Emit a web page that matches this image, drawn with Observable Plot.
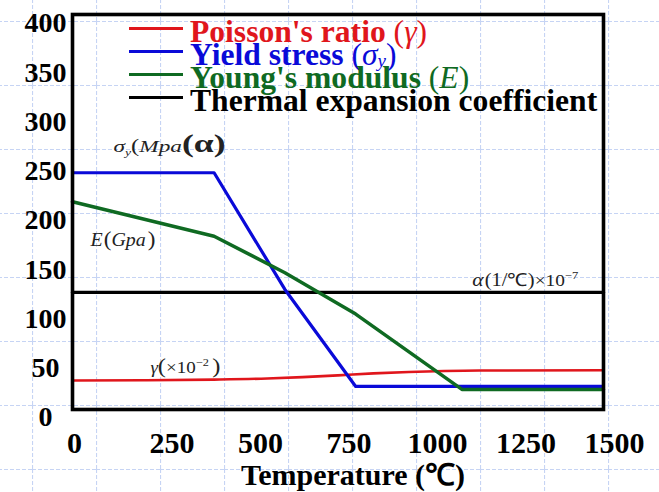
<!DOCTYPE html>
<html>
<head>
<meta charset="utf-8">
<script src="https://cdn.jsdelivr.net/npm/d3@7"></script>
<script src="https://cdn.jsdelivr.net/npm/@observablehq/plot@0.6"></script>
<style>
  html, body { margin: 0; padding: 0; background: #fff; }
  #chart {
    position: relative; width: 659px; height: 492px; overflow: hidden;
    background-image: url("data:image/svg+xml,%3Csvg xmlns='http://www.w3.org/2000/svg' width='64' height='64'%3E%3Cpath d='M0 0.5H64M0.5 0V64' stroke='%23c6d4f4' stroke-width='1.2' stroke-dasharray='4 2' fill='none'/%3E%3C/svg%3E");
    background-position: 32px 21px;
  }
  #legend {
    position: absolute; left: 129px; top: 20px;
    font-family: "Liberation Serif", "Times New Roman", serif;
    font-weight: bold; font-size: 31.6px; line-height: 23px; white-space: nowrap;
  }
  #legend .row { position: relative; height: 23px; padding-left: 61px; }
  #legend .swatch { position: absolute; left: 0; top: 7px; width: 54px; height: 3px; }
  #legend .paren { font-weight: normal; }
  #legend .sym { font-style: italic; font-weight: normal; }
  #legend sub { font-size: 0.6em; line-height: 0; vertical-align: -0.12em; }
</style>
</head>
<body>
<div id="chart"><div id="legend"></div></div>
<script>
// Material properties of steel versus temperature
const serif = "'Liberation Serif', 'Times New Roman', serif";

// Temperature (°C) and values for each property
const poissonT = [0, 200, 400, 550, 650, 750, 850, 950, 1050, 1150, 1500];
const poissonV = [37.5, 37.8, 38.5, 39.6, 41, 42.8, 44.8, 46.2, 47.2, 47.7, 47.9];
const yieldT = [0, 400, 600, 800, 1500];
const yieldV = [248.5, 248.5, 130, 31.5, 31.5];
const youngT = [0, 400, 600, 800, 1100, 1500];
const youngV = [219, 184, 147, 105, 28.5, 28.5];
const thermalT = [0, 1500];
const thermalV = [127, 127];

// Axis ticks
const xTicks = [0, 250, 500, 750, 1000, 1250, 1500];
const yTicks = [0, 50, 100, 150, 200, 250, 300, 350, 400];
const xTitle = "Temperature (℃)";

// Series names, symbols and colours for the legend
const seriesNames = ["Poisson's ratio", "Yield stress", "Young's modulus", "Thermal expansion coefficient"];
const seriesSymbols = [["γ", ""], ["σ", "y"], ["E", ""], null];
const seriesColors = ["#e0161c", "#0a0ad8", "#0f6a22", "#000000"];

// Unit labels next to the curves
const unitLabels = ["σy(Mpa(α)", "E(Gpa)", "α(1/℃)×10−7", "γ(×10−2)"];
const unitLabelT = [116, 51, 1129, 220];
const unitLabelV = [270, 174.5, 133, 44.7];
const unitLabelWidths = [112, 65, 106, 70];
const unitParts = [
  [{t: "σ", s: 17, i: true}, {t: "y", s: 10, i: true, shift: 4}, {t: "(", s: 18}, {t: "Mpa", s: 17, i: true}, {t: "(α)", s: 26, b: true}],
  [{t: "E", s: 19, i: true}, {t: "(", s: 22, dx: 1}, {t: "Gpa", s: 19, i: true}, {t: ")", s: 22, dx: 2}],
  [{t: "α", s: 19, i: true}, {t: "(1/℃)", s: 18, dx: 1}, {t: "×10", s: 17}, {t: "−7", s: 11, shift: -7}],
  [{t: "γ", s: 17, i: true}, {t: "(", s: 22}, {t: "×10", s: 17}, {t: "−2", s: 11, shift: -7}, {t: ")", s: 22, dx: 3}]
];

const toRows = (T, V) => T.map((t, i) => ({t, v: V[i]}));
const labels = unitLabels.map((label, i) => ({label, t: unitLabelT[i], v: unitLabelV[i]}));
const plain = d3.format("d");

const chart = Plot.plot({
  width: 659,
  height: 492,
  marginLeft: 72,
  marginRight: 56,
  marginTop: 14,
  marginBottom: 83,
  x: {domain: [0, 1500]},
  y: {domain: [0, 400], range: [417, 23]},
  style: {background: "transparent", fontFamily: serif, overflow: "visible"},
  marks: [
    Plot.line(toRows(poissonT, poissonV), {x: "t", y: "v", stroke: seriesColors[0], strokeWidth: 2.6, curve: "monotone-x"}),
    Plot.line(toRows(thermalT, thermalV), {x: "t", y: "v", stroke: seriesColors[3], strokeWidth: 3.3}),
    Plot.line(toRows(yieldT, yieldV), {x: "t", y: "v", stroke: seriesColors[1], strokeWidth: 3.2}),
    Plot.line(toRows(youngT, youngV), {x: "t", y: "v", stroke: seriesColors[2], strokeWidth: 3.5}),
    Plot.frame({stroke: "black", strokeWidth: 3.6}),
    Plot.axisY({ticks: yTicks, tickFormat: plain, anchor: "left", tickSize: 0, tickPadding: 27, textAnchor: "middle",
      fontSize: 28, fontWeight: "bold", fill: "black", label: null}),
    Plot.axisX({ticks: xTicks.slice(0, 1), tickFormat: plain, anchor: "bottom", tickSize: 0, tickPadding: 22, dx: 2,
      fontSize: 30, fontWeight: "bold", fill: "black", label: null}),
    Plot.axisX({ticks: xTicks.slice(1), tickFormat: plain, anchor: "bottom", tickSize: 0, tickPadding: 22, dx: 11,
      fontSize: 30, fontWeight: "bold", fill: "black", label: null}),
    Plot.text([xTitle], {frameAnchor: "bottom", dx: 15, dy: 75, lineAnchor: "bottom",
      fontSize: 30, fontWeight: "bold", fill: "black"}),
    Plot.text(labels, {x: "t", y: "v", text: "label", textAnchor: "start", lineAnchor: "bottom",
      fontSize: 16, fill: "#222"})
  ]
});

// Rebuild the unit labels with italics, subscripts and superscripts
const richParts = new Map(unitLabels.map((l, i) => [l, i]));
d3.select(chart).selectAll("text").each(function () {
  const k = richParts.get(this.textContent);
  if (k === undefined) return;
  const el = d3.select(this).text(null);
  let shift = 0;
  for (const p of unitParts[k]) {
    const ts = el.append("tspan").text(p.t).attr("font-size", p.s);
    if (p.i) ts.attr("font-style", "italic");
    if (p.b) ts.attr("font-weight", "bold");
    const s = p.shift || 0;
    if (s !== shift) ts.attr("dy", s - shift);
    shift = s;
    if (p.dx) ts.attr("dx", p.dx);
  }
  el.attr("textLength", unitLabelWidths[k]).attr("lengthAdjust", "spacingAndGlyphs");
});

const container = document.getElementById("chart");
container.insertBefore(chart, container.firstChild);

// Legend
const legend = d3.select("#legend");
seriesNames.forEach((name, i) => {
  const row = legend.append("div").attr("class", "row").style("color", seriesColors[i]);
  row.append("span").attr("class", "swatch").style("background", seriesColors[i]);
  row.append("span").text(name);
  const sym = seriesSymbols[i];
  if (sym) {
    row.append("span").attr("class", "paren").text(" (");
    const s = row.append("span").attr("class", "sym").text(sym[0]);
    if (sym[1]) s.append("sub").text(sym[1]);
    row.append("span").attr("class", "paren").text(")");
  }
});
</script>
</body>
</html>
